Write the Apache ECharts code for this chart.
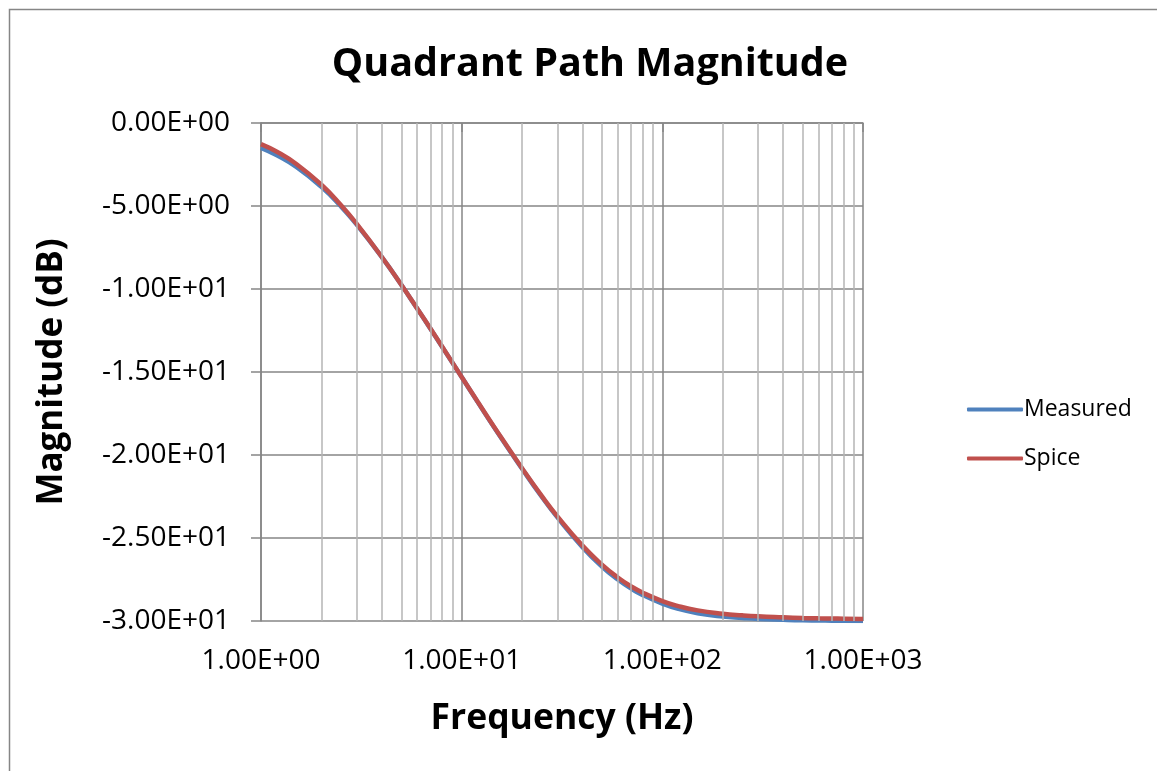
<!DOCTYPE html>
<html>
<head>
<meta charset="utf-8">
<script src="https://cdn.jsdelivr.net/npm/echarts@6/dist/echarts.min.js"></script>
<style>
html,body{margin:0;padding:0;background:#fff;}
#chart{width:1157px;height:771px;}
</style>
</head>
<body>
<div id="chart"></div>
<script>
const frequencies = [1,1.2,1.5,2,2.5,3,4,5,6,7,8,10,12,15,20,25,30,40,50,60,70,80,100,120,150,200,250,300,400,500,600,700,800,1000];
const measured = [-1.50,-1.95,-2.65,-3.85,-5.02,-6.12,-8.08,-9.75,-11.18,-12.41,-13.49,-15.30,-16.80,-18.60,-20.83,-22.50,-23.76,-25.55,-26.72,-27.50,-28.05,-28.44,-28.95,-29.27,-29.53,-29.73,-29.82,-29.88,-29.93,-29.96,-29.97,-29.98,-29.99,-30.00];
const spice = [-1.27,-1.73,-2.47,-3.72,-4.94,-6.08,-8.07,-9.74,-11.17,-12.40,-13.48,-15.30,-16.78,-18.57,-20.80,-22.45,-23.70,-25.46,-26.60,-27.38,-27.92,-28.30,-28.80,-29.10,-29.36,-29.56,-29.66,-29.72,-29.78,-29.82,-29.84,-29.85,-29.86,-29.88];
const minorGridFreqs = [2,3,4,5,6,7,8,9,20,30,40,50,60,70,80,90,200,300,400,500,600,700,800,900];
const seriesNames = ['Measured','Spice'];
const titleText = 'Quadrant Path Magnitude';
const xName = 'Frequency (Hz)';
const yName = 'Magnitude (dB)';

const font = '"Open Sans", "Liberation Sans", sans-serif';
const chart = echarts.init(document.getElementById('chart'));

function fmtExp(v){
  const s = Number(v).toExponential(2).toUpperCase();
  return s.replace(/E([+-])(\d)$/, 'E$10$2');
}

chart.setOption({
  animation:false,
  backgroundColor:'#fff',
  graphic:[{type:'rect',left:7,top:7,shape:{width:1200,height:800},style:{fill:'none',stroke:'#868686',lineWidth:1.5},silent:true}],
  title:{text:titleText,left:585,top:40,textAlign:'center',textStyle:{fontFamily:font,fontSize:39.5,fontWeight:'bold',color:'#000'}},
  grid:{left:261,right:294,top:123,bottom:150,containLabel:false},
  legend:{orient:'vertical',left:962,top:393,itemWidth:56,itemHeight:4,itemGap:26,
    data:seriesNames.map(n=>({name:n,icon:'roundRect'})),
    textStyle:{fontFamily:font,fontSize:23,color:'#000',padding:[0,0,0,-4]}},
  xAxis:{type:'log',logBase:10,min:1,max:1000,
    name:xName,nameLocation:'middle',nameGap:80,
    nameTextStyle:{fontFamily:font,fontSize:35.5,fontWeight:'bold',color:'#000'},
    axisLine:{lineStyle:{color:'#868686',width:1.5}},
    axisTick:{show:true,length:9,lineStyle:{color:'#868686',width:1.5}},
    axisLabel:{fontFamily:font,fontSize:28,color:'#000',margin:26,formatter:fmtExp},
    splitLine:{show:true,lineStyle:{color:'#868686',width:1.5}}
  },
  yAxis:{type:'value',min:-30,max:0,interval:5,
    name:yName,nameLocation:'middle',nameGap:191,nameRotate:90,
    nameTextStyle:{fontFamily:font,fontSize:35,fontWeight:'bold',color:'#000'},
    axisLine:{show:true,lineStyle:{color:'#868686',width:1.5}},
    axisTick:{show:true,length:10,lineStyle:{color:'#868686',width:1.5}},
    axisLabel:{fontFamily:font,fontSize:28,color:'#000',margin:31,formatter:fmtExp},
    splitLine:{show:true,lineStyle:{color:'#868686',width:1.5}}
  },
  series:[
    {name:seriesNames[0],type:'line',data:frequencies.map((f,i)=>[f,measured[i]]),smooth:true,showSymbol:false,
      lineStyle:{color:'#4F81BD',width:4.5},itemStyle:{color:'#4F81BD'},z:3,
      markLine:{silent:true,symbol:'none',label:{show:false},
        lineStyle:{color:'#B5B5B5',width:1.5,type:'solid'},
        data:minorGridFreqs.map(f=>({xAxis:f}))}},
    {name:seriesNames[1],type:'line',data:frequencies.map((f,i)=>[f,spice[i]]),smooth:true,showSymbol:false,
      lineStyle:{color:'#C0504D',width:4.5},itemStyle:{color:'#C0504D'},z:4}
  ]
});
</script>
</body>
</html>
